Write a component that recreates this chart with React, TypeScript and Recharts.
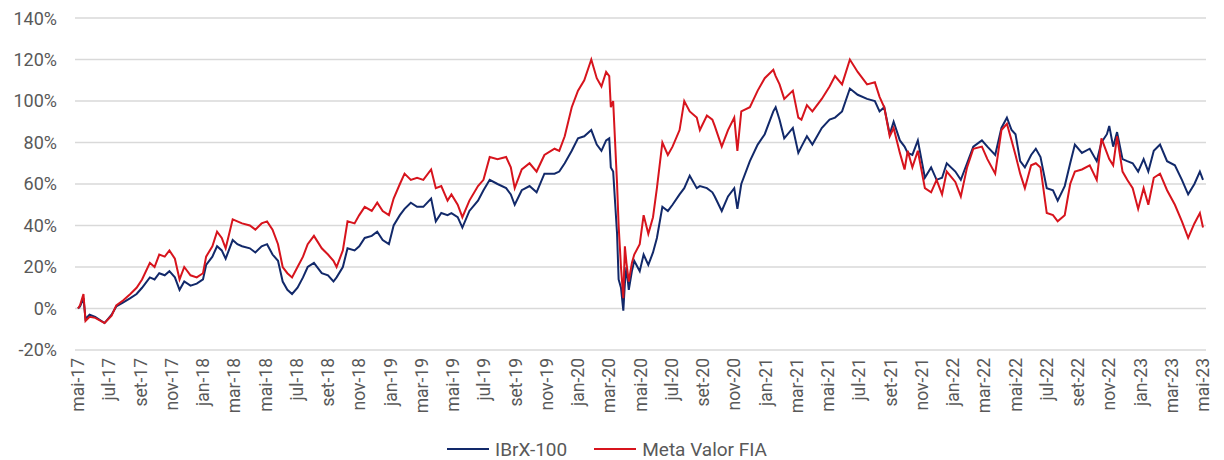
import { CartesianGrid, Legend, Line, LineChart, XAxis, YAxis } from "recharts";

// tempo em meses desde mai-17
const months = [
  0, 0.13, 0.35, 0.48, 0.74, 1.1, 1.7, 2.15, 2.45, 2.9, 3.35, 3.75, 4.1, 4.6, 4.9, 5.2, 5.55, 5.85, 6.2, 6.5,
  6.8, 7.2, 7.6, 8, 8.2, 8.6, 8.9, 9.2, 9.45, 9.9, 10.2, 10.5, 11, 11.35, 11.75, 12.1, 12.45, 12.8, 13.1, 13.4,
  13.7, 14.05, 14.4, 14.7, 15.1, 15.6, 16, 16.35, 16.55, 16.95, 17.25, 17.7, 18, 18.35, 18.8, 19.15, 19.5, 19.9,
  20.2, 20.6, 20.9, 21.3, 21.7, 22.1, 22.6, 22.9, 23.25, 23.65, 23.9, 24.3, 24.6, 25.05, 25.6, 25.95, 26.35,
  26.85, 27.4, 27.7, 27.95, 28.4, 28.9, 29.35, 29.85, 30.5, 30.8, 31.15, 31.6, 32, 32.4, 32.85, 33.2, 33.5, 33.8,
  34, 34.1, 34.25, 34.5, 34.6, 34.75, 34.9, 35, 35.1, 35.25, 35.45, 35.6, 35.95, 36.2, 36.5, 36.8, 37.05, 37.4,
  37.75, 38.05, 38.5, 38.8, 39.15, 39.6, 39.8, 40.25, 40.6, 40.75, 41.2, 41.6, 42, 42.2, 42.45, 43, 43.5, 43.95,
  44.5, 44.65, 44.9, 45.2, 45.75, 46.1, 46.3, 46.65, 47, 47.6, 48.1, 48.45, 48.9, 49.4, 49.9, 50.5, 51, 51.3,
  51.6, 51.95, 52.2, 52.6, 52.9, 53.1, 53.4, 53.75, 54.2, 54.6, 54.95, 55.3, 55.6, 56.15, 56.5, 56.9, 57.3,
  57.85, 58.2, 58.7, 59.1, 59.45, 59.75, 60, 60.3, 60.6, 61, 61.3, 61.6, 62, 62.4, 62.7, 63.15, 63.5, 63.8,
  64.25, 64.75, 65.2, 65.5, 65.85, 66, 66.25, 66.5, 66.85, 67.15, 67.5, 67.85, 68.2, 68.5, 68.85, 69.25, 69.7,
  70.2, 70.65, 71.05, 71.45, 71.8, 72,
];

const ibrx = [
  0, 1, 5, -5, -3, -4, -7, -3, 1, 3, 5, 7, 10, 15, 14, 17, 16, 18, 15, 9,
  13, 11, 12, 14, 21, 25, 30, 28, 24, 33, 31, 30, 29, 27, 30, 31, 26, 23, 13, 9,
  7, 10, 15, 20, 22, 17, 16, 13, 15, 20, 29, 28, 30, 34, 35, 37, 33, 31,
  40, 45, 48, 51, 49, 49, 53, 42, 46, 45, 46, 44, 39, 47, 52, 57, 62,
  60, 58, 55, 50, 57, 59, 56, 65, 65, 66, 70, 76, 82, 83, 86, 79, 76, 81,
  82, 68, 66, 36, 14, 10, -1, 12, 20, 9, 18, 23, 18, 26, 21, 27, 34, 49,
  47, 50, 55, 58, 64, 58, 59, 58, 56, 54, 47, 54, 58, 48, 60, 71, 79, 84,
  95, 97, 91, 82, 87, 75, 78, 83, 79, 87, 91, 92, 95, 106, 103, 101, 100, 95,
  97, 84, 90, 81, 78, 75, 74, 81, 63, 68, 62, 63, 70, 66, 62, 70, 78,
  81, 78, 74, 87, 92, 86, 84, 71, 68, 74, 77, 73, 58, 57, 52, 59, 70, 79,
  75, 77, 71, 80, 84, 88, 78, 85, 72, 71, 70, 66, 72, 66, 76, 79, 71,
  69, 62, 55, 60, 66, 62,
];

const metaValor = [
  0, 1.5, 7, -6, -4, -4.5, -7, -3.5, 1.5, 4, 7, 10, 14, 22, 20, 26, 25, 28, 24, 14,
  20, 16, 15, 17, 25, 30, 37, 34, 29, 43, 42, 41, 40, 38, 41, 42, 38, 31, 20, 17,
  15, 20, 25, 31, 35, 29, 26, 23, 20, 28, 42, 41, 45, 49, 47, 51, 47, 45,
  53, 60, 65, 62, 63, 62, 67, 58, 59, 52, 55, 50, 44, 52, 59, 62, 73,
  72, 73, 68, 58, 67, 70, 66, 74, 77, 76, 83, 97, 105, 110, 120, 111, 107, 114,
  112, 97, 100, 60, 40, 20, 5, 30, 22, 13, 22, 26, 31, 45, 36, 44, 58, 80,
  74, 78, 86, 100, 95, 92, 86, 93, 91, 88, 78, 86, 92, 76, 95, 97, 105, 111,
  115, 112, 108, 101, 105, 92, 91, 98, 95, 101, 107, 112, 108, 120, 114, 108, 109, 102,
  97, 83, 87, 75, 67, 76, 68, 76, 58, 56, 62, 55, 66, 61, 54, 68, 77,
  78, 72, 65, 86, 89, 81, 74, 65, 58, 69, 70, 68, 46, 45, 42, 45, 60, 66,
  67, 69, 62, 82, 75, 72, 69, 83, 66, 62, 58, 48, 58, 50, 63, 65, 57,
  50, 42, 34, 41, 46, 39,
];

const monthLabels = [
  "mai-17", "jul-17", "set-17", "nov-17",
  "jan-18", "mar-18", "mai-18", "jul-18", "set-18", "nov-18",
  "jan-19", "mar-19", "mai-19", "jul-19", "set-19", "nov-19",
  "jan-20", "mar-20", "mai-20", "jul-20", "set-20", "nov-20",
  "jan-21", "mar-21", "mai-21", "jul-21", "set-21", "nov-21",
  "jan-22", "mar-22", "mai-22", "jul-22", "set-22", "nov-22",
  "jan-23", "mar-23", "mai-23",
];

const yTicks = [-20, 0, 20, 40, 60, 80, 100, 120, 140];

const seriesNames = ["IBrX-100", "Meta Valor FIA"];
const NAVY = "#12296a";
const RED = "#d7141d";
const FONT = "Roboto, 'Noto Sans', sans-serif";
const TEXT = "#595959";

const data = months.map((m, i) => ({ m, ibrx: ibrx[i], meta: metaValor[i] }));
const xTicks = monthLabels.map((_, i) => i * 2);

function MonthTick({ x, y, payload }: any) {
  return (
    <text
      x={x}
      y={y}
      transform={`rotate(-90 ${x} ${y})`}
      textAnchor="end"
      dominantBaseline="central"
      fill={TEXT}
      fontSize={17.5}
      fontFamily={FONT}
    >
      {monthLabels[Math.round(payload.value / 2)]}
    </text>
  );
}

function LegendBox() {
  const items = [
    { name: seriesNames[0], color: NAVY },
    { name: seriesNames[1], color: RED },
  ];
  return (
    <div
      style={{
        display: "flex",
        justifyContent: "center",
        gap: 27,
        height: 22,
        alignItems: "center",
        fontFamily: FONT,
        fontSize: 19,
        color: TEXT,
      }}
    >
      {items.map((it) => (
        <div key={it.name} style={{ display: "flex", alignItems: "center", gap: 6 }}>
          <svg width={42} height={4}>
            <line x1={0} y1={2} x2={42} y2={2} stroke={it.color} strokeWidth={2} />
          </svg>
          <span>{it.name}</span>
        </div>
      ))}
    </div>
  );
}

export default function App() {
  return (
    <LineChart
      width={1208}
      height={452}
      data={data}
      margin={{ top: 10, right: 10, bottom: 0, left: 0 }}
    >
      <CartesianGrid stroke="#d9d9d9" strokeWidth={1.5} vertical={false} />
      <XAxis
        dataKey="m"
        type="number"
        domain={[0, 72]}
        ticks={xTicks}
        interval={0}
        padding={{ left: 3, right: 3 }}
        axisLine={false}
        tickLine={false}
        height={88}
        tick={<MonthTick />}
      />
      <YAxis
        width={67}
        domain={[-20, 140]}
        ticks={yTicks}
        axisLine={false}
        tickLine={false}
        tickMargin={12}
        tickFormatter={(v: number) => `${v}%`}
        tick={{ fill: TEXT, fontSize: 18, fontFamily: FONT }}
      />
      <Legend verticalAlign="bottom" content={<LegendBox />} />
      <Line
        dataKey="ibrx"
        name={seriesNames[0]}
        stroke={NAVY}
        strokeWidth={2}
        dot={false}
        isAnimationActive={false}
      />
      <Line
        dataKey="meta"
        name={seriesNames[1]}
        stroke={RED}
        strokeWidth={2}
        dot={false}
        isAnimationActive={false}
      />
    </LineChart>
  );
}
